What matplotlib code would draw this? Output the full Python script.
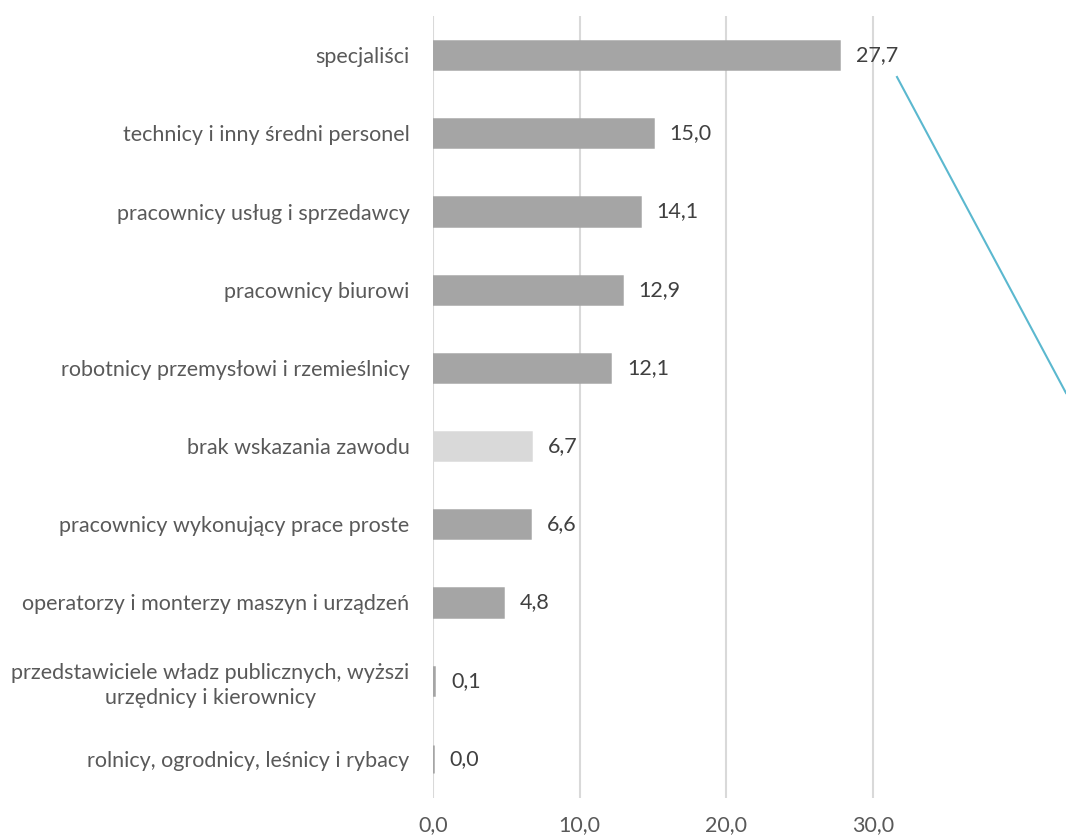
import matplotlib
matplotlib.use('Agg')
import matplotlib.pyplot as plt
from matplotlib.lines import Line2D

plt.rcParams['font.family'] = ['Lato', 'DejaVu Sans']

# occupational groups, top to bottom
categories = [
    'specjaliści',
    'technicy i inny średni personel',
    'pracownicy usług i sprzedawcy',
    'pracownicy biurowi',
    'robotnicy przemysłowi i rzemieślnicy',
    'brak wskazania zawodu',
    'pracownicy wykonujący prace proste',
    'operatorzy i monterzy maszyn i urządzeń',
    'przedstawiciele władz publicznych, wyższi\nurzędnicy i kierownicy',
    'rolnicy, ogrodnicy, leśnicy i rybacy',
]
values = [27.7, 15.0, 14.1, 12.9, 12.1, 6.7, 6.6, 4.8, 0.1, 0.0]
highlight = 'brak wskazania zawodu'
x_ticks = [0, 10, 20, 30]

BAR = '#A5A5A5'
BAR_LIGHT = '#D9D9D9'
GRID = '#D9D9D9'
TEXT = '#595959'
FS = 15.5

fig = plt.figure(figsize=(10.66, 8.39), dpi=100)
ax = fig.add_axes([0.4062, 0.0489, 0.4812, 0.932])

ypos = list(range(len(categories)))
colors = [BAR_LIGHT if c == highlight else BAR for c in categories]
# edge keeps near-zero bars visible as a thin stroke
bars = ax.barh(ypos, values, height=0.36, color=colors, edgecolor=colors,
               linewidth=1.8, zorder=3)

# value labels in Polish decimal format
for bar, v in zip(bars, values):
    ax.annotate(f'{v:.1f}'.replace('.', ','),
                xy=(bar.get_width(), bar.get_y() + bar.get_height() / 2),
                xytext=(12, 0), textcoords='offset points',
                ha='left', va='center', fontsize=FS, color='#404040')

ax.set_ylim(len(categories) - 0.5, -0.5)
ax.set_xlim(0, 35)
ax.set_yticks(ypos)
ax.set_yticklabels(categories, fontsize=FS, color=TEXT,
                   multialignment='center', linespacing=1.35)
ax.set_xticks(x_ticks)
ax.set_xticklabels([f'{t:.1f}'.replace('.', ',') for t in x_ticks],
                   fontsize=FS, color=TEXT)
ax.tick_params(axis='y', length=0, pad=17)
ax.tick_params(axis='x', length=0, pad=12)

ax.grid(axis='x', color=GRID, linewidth=1.5, zorder=0)
for s in ax.spines.values():
    s.set_visible(False)

# leader line running off to the right
fig.add_artist(Line2D([897 / 1066, 1066 / 1066], [1 - 77 / 839, 1 - 393 / 839],
                      color='#5BB8CF', linewidth=1.5))

fig.savefig('out.png', dpi=100)
